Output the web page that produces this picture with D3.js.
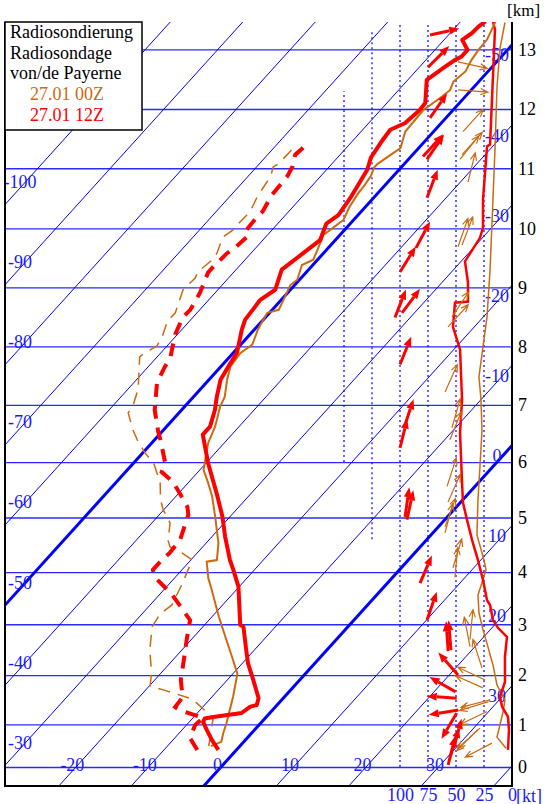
<!DOCTYPE html>
<html>
<head>
<meta charset="utf-8">
<script src="https://cdn.jsdelivr.net/npm/d3@7"></script>
<style>
body { margin: 0; background: #fff; }
text { font-family: "Liberation Serif", "Times New Roman", serif; }
</style>
</head>
<body>
<svg id="chart" width="547" height="804"></svg>
<script>
// height levels (km) and the pressure (hPa) found at each level
const kmLevels = [0, 1, 2, 3, 4, 5, 6, 7, 8, 9, 10, 11, 12, 13];
const kmPressure = [1000, 900, 797, 703, 618, 540, 471, 409, 354, 306, 264.5, 228, 197, 170];

// isotherm ticks (degC)
const isotherms = d3.range(-120, 41, 10);
const leftLabels = [-100, -90, -80, -70, -60, -50, -40, -30];
const rightLabels = [-50, -40, -30, -20, -10, 0, 10, 20, 30];
const bottomLabels = [-20, -10, 0, 10, 20, 30];
const thickIsotherms = [0, -50];

// wind speed scale (kt)
const ktTicks = [100, 75, 50, 25, 0];
const ktGuides = [25, 50, 75, 100, 125, 150];
const ktGuideFrom = [0, 0, 0, 0, 4.6, 6.0];
const ktGuideTo = [14, 14, 14, 14, 13.3, 12.3];

// 27.01 12Z : [km, degC]
const temp12 = [[0.40,-2.5],[0.63,-4.6],[0.87,-6.6],[1.05,-8.1],[1.12,-8.3],[1.15,-7.3],[1.23,-3.9],[1.36,-3.5],[1.39,-2.8],[1.53,-3.4],[1.90,-6.4],[2.23,-9.2],[2.49,-11.1],[2.95,-14.4],[2.99,-15.1],[3.72,-20.1],[4.04,-22.9],[4.22,-24.6],[4.65,-28.2],[5.02,-31.1],[5.44,-34.8],[5.98,-39.7],[6.48,-44.0],[6.62,-44.0],[6.91,-45.4],[7.14,-46.8],[7.43,-48.4],[7.71,-49.1],[7.89,-49.5],[8.28,-51.7],[8.45,-52.5],[8.79,-52.9],[8.96,-52.1],[9.30,-53.7],[9.58,-52.8],[9.80,-52.1],[10.08,-53.3],[10.22,-52.7],[10.51,-53.2],[10.98,-54.4],[11.18,-55.4],[11.43,-55.9],[11.65,-56.2],[11.76,-55.0],[11.98,-54.6],[12.10,-54.7],[12.49,-57.4],[12.71,-56.5],[12.82,-56.0],[12.88,-55.5],[12.99,-55.5],[13.16,-57.5],[13.27,-57.0],[13.38,-56.9],[13.47,-56.6]];
const dew12 = [[0.40,-5.4],[0.68,-7.9],[0.98,-8.8],[1.13,-8.6],[1.29,-12.8],[1.35,-13.8],[1.55,-14.0],[1.90,-16.4],[2.30,-18.5],[2.73,-20.8],[3.08,-22.6],[3.27,-24.8],[3.58,-28.4],[3.90,-32.8],[4.04,-34.0],[4.22,-34.0],[4.35,-33.8],[4.59,-34.0],[5.05,-36.0],[5.19,-37.1],[5.44,-39.9],[5.64,-42.2],[5.82,-45.0],[5.99,-45.7],[6.39,-49.2],[6.53,-50.5],[6.91,-53.7],[7.38,-56.8],[7.65,-57.7],[7.81,-58.1],[8.20,-60.3],[8.49,-61.4],[8.62,-61.3],[8.91,-62.1],[9.25,-63.5],[9.35,-63.5],[9.58,-63.3],[9.67,-62.9],[9.85,-62.6],[9.94,-63.5],[10.19,-63.7],[10.28,-63.6],[10.56,-64.4],[10.87,-64.6],[11.03,-65.1],[11.23,-66.2],[11.38,-65.9]];
// 27.01 00Z : [km, degC]
const temp00 = [[0.49,-4.0],[0.59,-3.1],[0.79,-3.9],[1.02,-4.7],[1.56,-7.1],[2.03,-9.4],[2.39,-12.5],[2.69,-15.1],[3.15,-19.1],[3.66,-23.4],[3.88,-25.3],[4.19,-27.6],[4.22,-26.4],[4.53,-28.3],[5.02,-32.1],[5.38,-35.0],[5.62,-37.2],[5.86,-39.5],[6.33,-42.2],[6.62,-43.3],[6.97,-45.1],[7.14,-45.7],[7.43,-47.5],[7.66,-48.7],[7.89,-49.0],[8.03,-48.4],[8.28,-49.5],[8.45,-50.0],[8.57,-50.3],[8.62,-49.1],[8.79,-49.7],[9.04,-50.6],[9.13,-50.3],[9.38,-51.5],[9.47,-50.6],[9.75,-51.7],[9.89,-52.3],[9.97,-52.0],[10.14,-51.4],[10.36,-52.2],[10.59,-52.7],[10.70,-52.8],[10.87,-53.1],[11.01,-53.7],[11.07,-53.7],[11.34,-52.5],[11.62,-53.9],[11.98,-54.1],[12.21,-53.2],[12.32,-52.9],[12.46,-53.5],[12.63,-53.1],[12.82,-53.7],[12.99,-54.0],[13.16,-54.1],[13.33,-54.7],[13.47,-55.2]];
const dew00 = [[0.49,-4.3],[1.13,-7.2],[1.43,-11.3],[1.53,-12.9],[1.69,-17.3],[1.78,-19.9],[2.04,-21.3],[2.49,-24.4],[2.95,-27.0],[3.20,-27.5],[3.37,-27.0],[3.77,-28.2],[4.22,-29.8],[4.35,-32.1],[4.46,-34.5],[4.57,-35.5],[4.90,-37.5],[5.14,-40.1],[5.32,-41.7],[5.63,-43.9],[5.99,-47.3],[6.16,-49.7],[6.39,-52.4],[6.56,-54.2],[6.86,-57.0],[7.00,-57.3],[7.27,-58.6],[7.82,-62.4],[7.87,-62.3],[8.01,-61.4],[8.16,-61.8],[8.42,-63.0],[8.57,-63.0],[8.96,-64.8],[9.16,-64.6],[9.26,-65.0],[9.47,-64.5],[9.58,-64.7],[9.85,-65.9],[9.97,-65.4],[10.14,-65.4],[10.28,-65.3],[10.53,-66.2],[10.68,-66.5],[10.87,-66.9],[11.02,-67.7],[11.07,-67.4],[11.23,-67.3],[11.38,-67.3]];

// speed profiles on the kt scale : [km, kt]
const speed12 = [[0.40,3.6],[0.87,2.7],[1.15,3.6],[1.36,8.9],[1.56,10.7],[1.86,6.3],[2.36,6.3],[2.75,4.5],[2.93,12.5],[3.08,17],[3.37,19.6],[3.46,22.3],[3.85,25.9],[4.22,30.4],[4.59,35.7],[4.96,40.2],[5.27,43.8],[5.63,44.6],[6.51,46.4],[7.09,44.6],[7.95,46.4],[8.11,49.1],[8.33,52.7],[8.74,50.9],[8.76,39.3],[9.08,39.3],[9.44,42],[9.84,28.6],[10.01,25.9],[10.48,25.9],[11.37,22.3],[11.40,19.6],[13.33,15.2],[13.47,17]];
const speed00 = [[0.44,5.4],[0.70,13.4],[1.25,8],[1.49,6.3],[1.80,13.4],[2.20,17],[2.55,21.4],[2.89,25.9],[3.22,29.5],[3.56,30.4],[4.04,23.2],[4.22,25],[4.68,31.3],[5.32,30.4],[5.92,28.6],[6.56,26.8],[7.09,27.7],[7.48,29.5],[8.50,22.3],[9.30,19.6],[10.48,17],[11.32,15.2],[12.37,13.4],[13.02,10.7],[13.45,6.3]];

// wind arrows : [km, kt, direction from (deg)]
const wind12 = [[13.24,73.2,257.5],[12.70,75,225],[11.85,73.2,214.7],[11.20,79.5,222.5],[11.15,75.9,214.6],[10.51,75.9,200.9],[9.67,85.7,208],[9.26,100,211.8],[8.49,104.5,201.4],[8.57,98.2,216.9],[7.69,100,201.8],[6.60,96.4,198.4],[6.25,100,194],[5.01,95.5,188.1],[4.96,93.8,192.3],[3.79,82.1,203.2],[3.08,75.9,199],[2.49,54.5,175.4],[2.47,57,176],[2.00,48.2,139],[1.66,50.3,119.5],[1.53,49.4,94],[1.29,47.9,81],[1.23,49.4,30.5],[0.45,52,195],[0.25,55,197],[0.05,57,194]];
const wind00 = [[12.79,48.2,282.5],[12.32,48.2,274.2],[11.62,43.8,222.3],[11.23,44.6,222.3],[11.15,46.4,218.7],[10.77,39.3,194],[9.69,48.2,199.4],[9.72,44.6,201],[8.50,53.6,213.7],[8.33,57.1,222.3],[7.22,59.8,204.1],[6.60,53.6,195.9],[6.39,55.4,201.8],[5.56,58,197.9],[5.28,57.1,204],[4.83,59.8,200.3],[4.72,59.8,194.9],[4.08,52.7,197],[3.90,50.9,185.2],[2.70,37.5,185.7],[2.56,37.5,169],[2.14,26.8,162.4],[1.90,24.1,115.2],[1.74,25.9,114],[1.50,19.6,75.1],[1.46,21,73],[1.26,22.3,64.4],[0.91,28.6,48],[0.88,30.4,45],[0.56,17.9,62.5]];

const legendLines = ["Radiosondierung", "Radiosondage", "von/de Payerne"];
const runs = ["27.01 00Z", "27.01 12Z"];

const red = "#ff0000", orange = "#cc6a10", blue = "#0000ff";
const plot = {left: 5, right: 512, top: 22, bottom: 786};

const svg = d3.select("#chart");

// vertical: log pressure, heights placed through their pressure
const yP = d3.scaleLog().domain([1000, 100]).range([767, 767 - 405 * Math.LN10]);
const yH = d3.scaleLinear().domain(kmLevels).range(kmPressure.map(p => yP(p)));
// horizontal: skewed temperature
const xT = d3.scaleLinear().domain([-10, 30]).range([148.5, 438.5]);
const skew = 0.905;
const y0 = yH(0);
function xSkew(t, y) { return xT(t) + skew * (y0 - y); }
function ySkew(t, x) { return y0 - (x - xT(t)) / skew; }
const xKt = d3.scaleLinear().domain([0, 100]).range([512, 400]);

svg.append("defs").append("clipPath").attr("id", "clip")
	.append("rect")
	.attr("x", plot.left).attr("y", plot.top)
	.attr("width", plot.right - plot.left).attr("height", plot.bottom - plot.top);

const g = svg.append("g").attr("clip-path", "url(#clip)");

// height lines
g.append("g")
	.attr("transform", "translate(" + plot.left + ",0)")
	.call(d3.axisLeft(yH).tickValues(kmLevels).tickSize(-(plot.right - plot.left)).tickFormat(""))
	.call(s => s.select(".domain").remove())
	.selectAll("line").attr("stroke", "#2a2aff").attr("stroke-width", 1.4);

// isotherms
g.append("g").selectAll("line")
	.data(isotherms)
	.join("line")
	.attr("x1", t => xSkew(t, plot.bottom)).attr("y1", plot.bottom)
	.attr("x2", t => xSkew(t, plot.top)).attr("y2", plot.top)
	.attr("stroke", blue)
	.attr("stroke-width", t => thickIsotherms.includes(t) ? 3 : 1);

// wind speed guides
g.append("g").selectAll("line")
	.data(ktGuides)
	.join("line")
	.attr("x1", k => xKt(k)).attr("x2", k => xKt(k))
	.attr("y1", (k, i) => yH(ktGuideFrom[i])).attr("y2", (k, i) => yH(ktGuideTo[i]))
	.attr("stroke", blue).attr("stroke-width", 1.2)
	.attr("stroke-dasharray", "2,3");

// isotherm labels
const lab = g.append("g").attr("fill", "#1a1aff").attr("font-size", 18).attr("text-anchor", "middle");
lab.selectAll(".ll").data(leftLabels).join("text").attr("class", "ll")
	.attr("x", 20).attr("y", t => ySkew(t, 20)).text(t => t);
lab.selectAll(".rl").data(rightLabels).join("text").attr("class", "rl")
	.attr("x", 497).attr("y", t => ySkew(t, 497)).text(t => t);
lab.selectAll(".bl").data(bottomLabels).join("text").attr("class", "bl")
	.attr("x", t => xSkew(t, 771)).attr("y", 771).text(t => t);

// profiles
const tLine = d3.line().x(d => xSkew(d[1], yH(d[0]))).y(d => yH(d[0]));
const kLine = d3.line().x(d => xKt(d[1])).y(d => yH(d[0]));

g.append("path").datum(speed00).attr("d", kLine)
	.attr("fill", "none").attr("stroke", orange).attr("stroke-width", 1.5);
g.append("path").datum(speed12).attr("d", kLine)
	.attr("fill", "none").attr("stroke", red).attr("stroke-width", 2.5);

g.append("path").datum(dew00).attr("d", tLine)
	.attr("fill", "none").attr("stroke", orange).attr("stroke-width", 1.5)
	.attr("stroke-dasharray", "12,8");
g.append("path").datum(temp00).attr("d", tLine)
	.attr("fill", "none").attr("stroke", orange).attr("stroke-width", 2);
g.append("path").datum(dew12).attr("d", tLine)
	.attr("fill", "none").attr("stroke", red).attr("stroke-width", 4)
	.attr("stroke-dasharray", "13,9");
g.append("path").datum(temp12).attr("d", tLine)
	.attr("fill", "none").attr("stroke", red).attr("stroke-width", 4)
	.attr("stroke-linejoin", "round");

// wind arrows, pointing downwind
function arrowParts(d, len) {
	let tx = xKt(d[1]), ty = yH(d[0]);
	let a = (d[2] + 180) * Math.PI / 180;
	let ux = Math.sin(a), uy = -Math.cos(a);
	return {tx, ty, ux, uy, hx: tx + ux * len, hy: ty + uy * len};
}
const aw = g.append("g");
wind00.forEach(d => {
	let p = arrowParts(d, 30), hl = 8, sp = 0.4;
	let b1x = p.hx - hl * (p.ux * Math.cos(sp) - p.uy * Math.sin(sp));
	let b1y = p.hy - hl * (p.uy * Math.cos(sp) + p.ux * Math.sin(sp));
	let b2x = p.hx - hl * (p.ux * Math.cos(sp) + p.uy * Math.sin(sp));
	let b2y = p.hy - hl * (p.uy * Math.cos(sp) - p.ux * Math.sin(sp));
	aw.append("path")
		.attr("d", "M" + p.tx + "," + p.ty + "L" + p.hx + "," + p.hy +
			"M" + b1x + "," + b1y + "L" + p.hx + "," + p.hy + "L" + b2x + "," + b2y)
		.attr("fill", "none").attr("stroke", orange).attr("stroke-width", 1.2);
});
wind12.forEach(d => {
	let p = arrowParts(d, 30), hl = 10, hw = 4;
	let bx = p.hx - p.ux * hl, by = p.hy - p.uy * hl;
	aw.append("line")
		.attr("x1", p.tx).attr("y1", p.ty).attr("x2", bx).attr("y2", by)
		.attr("stroke", red).attr("stroke-width", 3);
	aw.append("path")
		.attr("d", "M" + p.hx + "," + p.hy +
			"L" + (bx - p.uy * hw) + "," + (by + p.ux * hw) +
			"L" + (bx + p.uy * hw) + "," + (by - p.ux * hw) + "Z")
		.attr("fill", red);
});

// frame
svg.append("path")
	.attr("d", "M" + plot.left + "," + plot.top + "V" + plot.bottom + "H" + plot.right + "V" + plot.top)
	.attr("fill", "none").attr("stroke", "#000").attr("stroke-width", 2);

// km labels
svg.append("g")
	.attr("transform", "translate(" + plot.right + ",0)")
	.call(d3.axisRight(yH).tickValues(kmLevels).tickSize(0).tickPadding(6).tickFormat(d3.format("d")))
	.call(s => s.select(".domain").remove())
	.selectAll("text").attr("font-size", 18).attr("font-family", "Liberation Serif").attr("fill", "#000");
svg.append("text").attr("x", 507).attr("y", 16).attr("font-size", 17).text("[km]");

// kt labels
svg.append("g")
	.attr("transform", "translate(0," + plot.bottom + ")")
	.call(d3.axisBottom(xKt).tickValues(ktTicks).tickSize(0).tickPadding(2))
	.call(s => s.select(".domain").remove())
	.selectAll("text").attr("font-size", 18).attr("font-family", "Liberation Serif").attr("fill", "#1a1aff");
svg.append("text").attr("x", xKt(0) + 4).attr("y", plot.bottom + 15.5)
	.attr("font-size", 18).attr("fill", "#1a1aff").text("[kt]");

// legend
const leg = svg.append("g");
leg.append("rect").attr("x", plot.left).attr("y", plot.top).attr("width", 137).attr("height", 108)
	.attr("fill", "#fff").attr("stroke", "#000").attr("stroke-width", 1.5);
leg.selectAll(".t").data(legendLines).join("text").attr("class", "t")
	.attr("x", 10).attr("y", (d, i) => 38 + i * 20.7).attr("font-size", 18).text(d => d);
leg.selectAll(".r").data(runs).join("text").attr("class", "r")
	.attr("x", 30).attr("y", (d, i) => 100 + i * 20.7).attr("font-size", 18)
	.attr("fill", (d, i) => i ? red : orange).text(d => d);
</script>
</body>
</html>
